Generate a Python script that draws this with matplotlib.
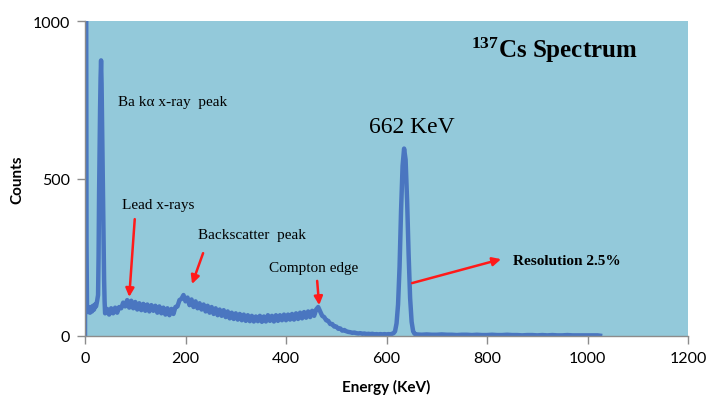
import numpy as np
import matplotlib
matplotlib.use("Agg")
import matplotlib.pyplot as plt

# ------------------------------------------------------------
# データ
# ------------------------------------------------------------
# 低エネルギー側 (0-39 keV, Ba x線ピーク)
e_low = [0, 1, 2, 3, 4, 6, 8, 10, 12, 14, 16, 18, 20, 22, 24,
         26, 27, 28, 29, 30, 31, 32, 33, 34, 35, 36, 37, 38, 39]
c_low = [0, 1500, 1500, 300, 90, 76, 90, 74, 92, 78, 96, 84, 100, 94, 110,
         130, 250, 450, 600, 720, 820, 875, 800, 680, 560, 430, 300, 180, 110]

# 連続部 (40-600 keV, 4 keV刻み)
e_cont = list(range(40, 601, 4))
c_cont = [
    72, 86, 68, 88, 72, 90, 74, 92, 88, 106,
    94, 114, 90, 112, 88, 108, 84, 104, 82, 102,
    80, 100, 78, 98, 80, 96, 74, 94, 72, 90,
    68, 88, 66, 86, 70, 92, 94, 114, 118, 130,
    110, 122, 98, 116, 92, 110, 88, 104, 84, 100,
    78, 96, 74, 92, 70, 88, 66, 84, 64, 82,
    60, 78, 56, 74, 54, 72, 52, 70, 50, 68,
    48, 66, 47, 64, 46, 62, 47, 64, 45, 62,
    46, 66, 48, 64, 46, 66, 48, 66, 50, 68,
    50, 68, 52, 70, 52, 72, 54, 74, 56, 76,
    58, 78, 60, 80, 64, 84, 92, 78, 64, 60,
    50, 48, 38, 38, 30, 30, 23, 24, 17, 19,
    15, 13, 12, 10, 11, 9, 8, 9, 7, 8,
    6, 7, 6, 7, 5, 6, 5, 6, 5, 6,
    5,
]

# 662 keV 光電ピーク
e_peak = [604, 608, 611, 614, 617, 620, 623, 626, 629, 632, 635, 638,
          641, 644, 647, 650, 653, 656]
c_peak = [6, 5, 7, 9, 15, 40, 100, 220, 400, 540, 595, 560,
          430, 260, 120, 45, 15, 7]

# 高エネルギー側の裾
e_tail = [660, 670, 680, 690, 700, 710, 720, 730, 740, 750, 760, 770,
          780, 790, 800, 810, 820, 830, 840, 850, 860, 870, 880, 890,
          900, 910, 920, 930, 940, 950, 960, 970, 980, 990, 1000, 1010,
          1020, 1025]
c_tail = [5, 4, 5, 4, 4, 5, 4, 4, 3, 4, 4, 3,
          4, 3, 3, 4, 3, 3, 4, 3, 3, 2, 3, 3,
          2, 3, 2, 3, 2, 2, 3, 2, 2, 2, 2, 2,
          2, 1]

energy = np.array(e_low + e_cont + e_peak + e_tail)
counts = np.array(c_low + c_cont + c_peak + c_tail)

X_TICKS = [0, 200, 400, 600, 800, 1000, 1200]
Y_TICKS = [0, 500, 1000]

BG_COLOR = "#93C9DA"
LINE_COLOR = "#4A76C0"
AXIS_COLOR = "#8C8C8C"

plt.rcParams["mathtext.fontset"] = "custom"
plt.rcParams["mathtext.rm"] = "Liberation Serif:bold"
plt.rcParams["mathtext.default"] = "rm"

# ------------------------------------------------------------
# 描画
# ------------------------------------------------------------
fig = plt.figure(figsize=(7.24, 4.14), dpi=100)
ax = fig.add_axes([85 / 724, 77 / 414, 603 / 724, 315 / 414])
ax.set_facecolor(BG_COLOR)

ax.plot(energy, counts, color=LINE_COLOR, lw=3.2, solid_joinstyle="round")

ax.set_xlim(0, 1200)
ax.set_ylim(0, 1000)
ax.set_xticks(X_TICKS)
ax.set_yticks(Y_TICKS)

for side in ["top", "right"]:
    ax.spines[side].set_visible(False)
for side in ["left", "bottom"]:
    ax.spines[side].set_color(AXIS_COLOR)
    ax.spines[side].set_linewidth(1.0)

ax.tick_params(axis="both", direction="out", length=6, width=1.0,
               color=AXIS_COLOR, labelsize=11.5, labelcolor="black")
ax.tick_params(axis="y", pad=5)
ax.tick_params(axis="x", pad=5)
for lab in ax.get_xticklabels() + ax.get_yticklabels():
    lab.set_family("Lato")

ax.set_xlabel("Energy (KeV)", family="Lato", fontweight="bold",
              fontsize=11, labelpad=10)
ax.set_ylabel("Counts", family="Lato", fontweight="bold",
              fontsize=11, labelpad=6)

# 注釈
serif = "Liberation Serif"
ax.text(66, 743, "Ba k\u03b1 x-ray  peak", family=serif, fontsize=11,
        va="center", ha="left")
ax.text(74, 419, "Lead x-rays", family=serif, fontsize=11,
        va="center", ha="left")
ax.text(225, 321, "Backscatter  peak", family=serif, fontsize=11,
        va="center", ha="left")
ax.text(366, 219, "Compton edge", family=serif, fontsize=11,
        va="center", ha="left")
ax.text(651, 665, "662 KeV", family=serif, fontsize=17,
        va="center", ha="center")
ax.text(852, 241, "Resolution 2.5%", family=serif, fontsize=11,
        fontweight="bold", va="center", ha="left")
ax.text(935, 910, r"$^{137}$Cs Spectrum", family=serif, fontsize=18,
        fontweight="bold", va="center", ha="center")

arrow_kw = dict(arrowstyle="-|>,head_length=0.5,head_width=0.25",
                color="#FF1A1A", lw=1.8, shrinkA=0, shrinkB=0)
arrows = [
    ((99, 371), (88, 124)),
    ((235, 263), (213, 165)),
    ((462, 175), (466, 98)),
    ((651, 168), (828, 244)),
]
for tail, head in arrows:
    ax.annotate("", xy=head, xytext=tail, arrowprops=arrow_kw)

fig.savefig("out.png", dpi=100)
